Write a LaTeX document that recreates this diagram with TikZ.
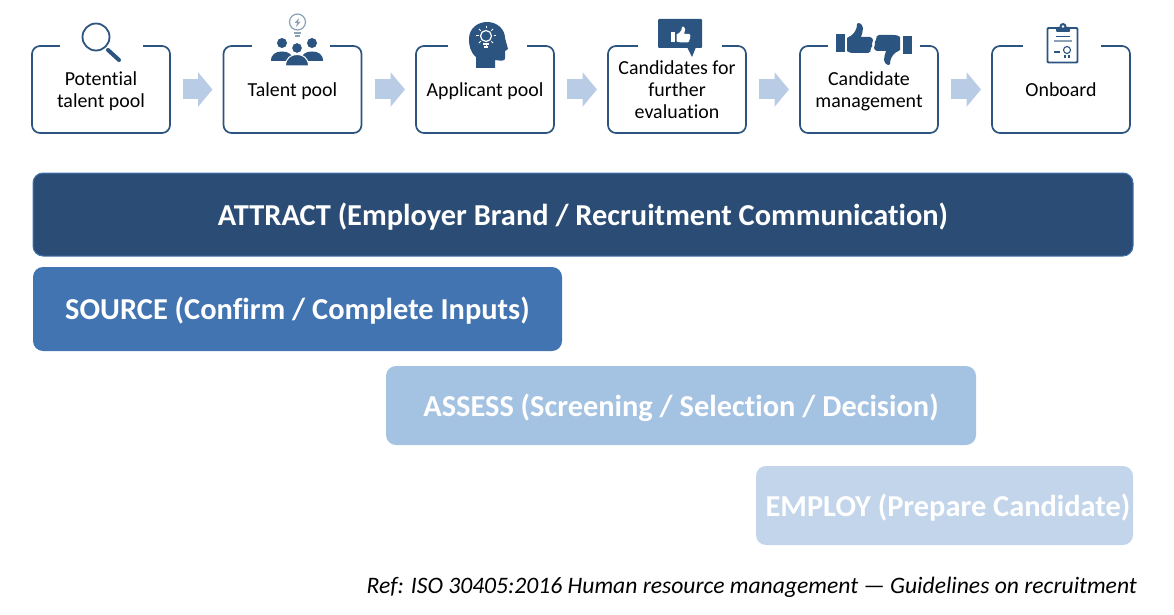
\documentclass[tikz,border=0pt]{standalone}
\usepackage{fontspec}
\setmainfont{Carlito}[Ligatures=NoCommon]
\usetikzlibrary{arrows.meta, calc}
\definecolor{navy}{RGB}{43,77,117}
\definecolor{midblue}{RGB}{65,116,176}
\definecolor{paleblue}{RGB}{164,194,226}
\definecolor{mistblue}{RGB}{194,213,235}
\definecolor{arrowblue}{RGB}{184,204,230}
\definecolor{iconblue}{RGB}{44,84,128}
\definecolor{bulbgray}{RGB}{140,160,182}
\tikzset{
  stagebox/.style={draw=iconblue, line width=1.7pt, rounded corners=8pt, fill=white,
    anchor=north west, minimum width=138pt, minimum height=87pt, inner sep=0pt,
    outer sep=0pt, align=center, text depth=0pt, font=\fontsize{19.9}{22}\selectfont, text=black},
  flowarrow/.style={arrowblue, line width=20pt,
    -{Triangle[length=14.5pt, width=34pt]}, shorten <=13pt, shorten >=11pt},
  phasebar/.style={rounded corners=10pt, anchor=north west, inner sep=0pt, outer sep=0pt,
    text depth=1pt, text=white, font=\fontsize{30.4}{36}\selectfont\bfseries},
  thumbicon/.pic={
    \path[pic actions] (-4.5,-9) rectangle (4.5,9);
    \path[pic actions] (7,-5) -- (12,-8) .. controls (15,-11) and (17,-14) .. (17,-19)
      .. controls (18,-21) and (22,-20) .. (23,-15) .. controls (23,-12) and (22,-9) .. (21,-6)
      -- (30,-6) .. controls (34,-5) and (33,-1) .. (32,0) .. controls (33,2) and (32,5) .. (31,5)
      .. controls (31,8) and (30,10) .. (28,10) -- (14,10) .. controls (10,10) and (8,9) .. (7,8) -- cycle;
  },
}

\begin{document}
\begin{tikzpicture}[x=1pt, y=-1pt]
  \useasboundingbox (0,0) rectangle (1174,615);

  % Stage boxes
  \foreach \k/\x/\txt in {1/32/{Potential\\talent pool}, 2/223.5/{Talent pool}, 3/416/{Applicant pool},
      4/608/{Candidates for\\further\\evaluation}, 5/800/{Candidate\\management}, 6/992/{Onboard}} {
    \node[stagebox] (stage\k) at (\x,46) {\txt};
  }

  % Arrows between stages
  \foreach \k/\n in {1/2, 2/3, 3/4, 4/5, 5/6} {
    \draw[flowarrow] (stage\k.east) -- (stage\n.west);
  }

  % Openings in the top edge of the boxes
  \foreach \a/\b in {60/143, 252/330, 448/527, 638/722, 828/920, 1023/1101} {
    \fill[white] (\a,42) rectangle (\b,50);
  }

  % Magnifier
  \draw[iconblue, line width=1.8pt] (96,37) circle (13.5);
  \draw[iconblue, line width=4pt, line cap=round] (108,50) -- (119,60);

  % Bulb over people
  \draw[bulbgray, line width=1.2pt] (297.5,22) circle (8);
  \draw[bulbgray, line width=1.1pt] (294,33) -- (301,33) (295,36) -- (300,36);
  \fill[bulbgray] (299,18) -- (294.5,23) -- (297,23) -- (296,27) -- (300.5,22) -- (298,22) -- cycle;
  \fill[iconblue] (282,43) circle (5) (312,43) circle (5);
  \fill[iconblue] (271,61) .. controls (271,54) and (276,51.5) .. (282,51.5)
    .. controls (288,51.5) and (293,54) .. (293,61) -- cycle;
  \fill[iconblue] (301,61) .. controls (301,54) and (306,51.5) .. (312,51.5)
    .. controls (318,51.5) and (323,54) .. (323,61) -- cycle;
  \filldraw[iconblue, draw=white, line width=1pt] (297,48) circle (5.5);
  \filldraw[iconblue, draw=white, line width=1pt] (285.5,66) .. controls (285.5,58) and (291,54.5) .. (297,54.5)
    .. controls (303,54.5) and (308.5,58) .. (308.5,66) -- cycle;

  % Head with bulb
  \fill[iconblue] (476,68) -- (476,57) .. controls (470,52) and (469,45) .. (469,39)
    .. controls (469,28) and (478,22) .. (487,22) .. controls (498,22) and (505,30) .. (505,38)
    -- (508,49) -- (505,51) -- (505,58) .. controls (505,61) and (502,61) .. (495,60)
    -- (495,68) -- cycle;
  \draw[white, line width=1.2pt] (486,36) circle (5.5);
  \foreach \ang in {0,45,...,315} {
    \draw[white, line width=1pt] ($(486,36)+(\ang:7.5)$) -- ($(486,36)+(\ang:10)$);
  }
  \draw[white, line width=1.2pt] (483,44) -- (489,44) (484,47) -- (488,47);

  % Speech box with thumb
  \fill[iconblue, rounded corners=1pt] (658,19) rectangle (702,48);
  \fill[iconblue] (687,47) -- (692,57) -- (696,47) -- cycle;
  \pic[fill=white, scale=.53] at (673,37) {thumbicon};

  % Thumbs up and down
  \pic[fill=iconblue] at (840,43) {thumbicon};
  \pic[fill=iconblue, rotate=180] at (907,45) {thumbicon};

  % Clipboard
  \draw[iconblue, line width=1.8pt, rounded corners=1pt] (1047.5,28) rectangle (1077.5,62.5);
  \fill[iconblue, rounded corners=1pt] (1056,27) rectangle (1070,32);
  \fill[iconblue] (1063,26.5) circle (3.5);
  \fill[white] (1063,26.5) circle (1.3);
  \draw[iconblue, line width=1.1pt] (1056,36.5) -- (1070,36.5);
  \draw[bulbgray, line width=1.1pt] (1054,41) -- (1072,41);
  \draw[iconblue, line width=1.3pt] (1054,52) -- (1060,52);
  \draw[iconblue, line width=1.1pt] (1067,50) circle (3.5);
  \draw[iconblue, line width=1.1pt] (1065,55) -- (1065,58) (1069,55) -- (1069,58);

  % Phase bars
  \node[phasebar, draw=midblue, line width=1pt, fill=navy, minimum width=1100pt, minimum height=83pt] (attract)
    at (33,173) {ATTRACT (Employer Brand / Recruitment Communication)};
  \node[phasebar, fill=midblue, minimum width=529pt, minimum height=84pt] (source)
    at (33,267) {SOURCE (Confirm / Complete Inputs)};
  \node[phasebar, fill=paleblue, minimum width=590pt, minimum height=79pt] (assess)
    at (386,366) {ASSESS (Screening / Selection / Decision)};
  \node[phasebar, fill=mistblue, minimum width=377pt, minimum height=79pt] (employ)
    at (756,466) {\hspace{7pt}EMPLOY (Prepare Candidate)};

  % Reference line
  \node[font=\fontsize{23.6}{28}\selectfont\itshape, anchor=east, inner sep=0pt] (reference) at (1137,587)
    {Ref: ISO 30405:2016 Human resource management — Guidelines on recruitment};
\end{tikzpicture}
\end{document}
